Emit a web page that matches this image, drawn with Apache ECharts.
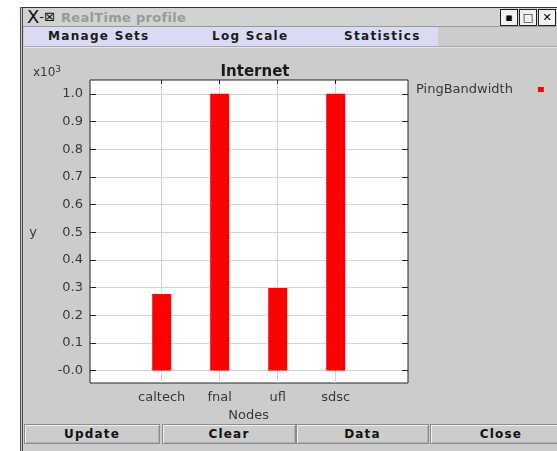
<!DOCTYPE html>
<html>
<head>
<meta charset="utf-8">
<script src="https://cdn.jsdelivr.net/npm/echarts@6/dist/echarts.min.js"></script>
<style>
  html, body { margin: 0; padding: 0; background: #ffffff; width: 557px; height: 451px; overflow: hidden; font-family: "DejaVu Sans", sans-serif; }
  #win { position: absolute; left: 20px; top: 7px; width: 560px; height: 460px; background: #cccccc; border-left: 3px double #4a4a4a; border-top: 1px solid #333; }
  #titlebar { position: absolute; left: 0; top: 0; width: 560px; height: 18px; background: #d2d2d2; border-bottom: 1px solid #9a9a9a; }
  #icon { position: absolute; left: 4px; top: -1px; font-size: 18px; color: #111; line-height: 19px; }
  #icon span { font-size: 13px; vertical-align: 2px; }
  #wtitle { position: absolute; left: 38px; top: 2px; font-size: 13px; font-weight: bold; color: #9a9a9a; line-height: 15px; letter-spacing: 0.3px; }
  .wbtn { position: absolute; top: 1px; width: 16px; height: 15px; background: #f2f2f2; border: 1px solid #222; font-size: 11px; font-weight: bold; line-height: 15px; text-align: center; color: #000; }
  #menubar { position: absolute; left: 1px; top: 19px; width: 414px; height: 19px; background: #dadaf4; }
  #menuline { position: absolute; left: 0; top: 38px; width: 560px; height: 1px; background: #a8a8a8; border-bottom: 1px solid #e4e4e4; }
  .menu { position: absolute; top: 2px; font-size: 12px; font-weight: bold; color: #1a1a1a; letter-spacing: 1.3px; line-height: 15px; white-space: nowrap; }
  .btn { position: absolute; top: 416px; height: 18px; background: #cccccc; border: 1px solid #8c8c8c; box-shadow: inset 1px 1px 0 #f0f0f0, inset -1px -1px 0 #b0b0b0; font-size: 12px; font-weight: bold; color: #111; text-align: center; line-height: 18px; letter-spacing: 1.2px; }
  #chart { position: absolute; left: 0; top: 0; width: 557px; height: 451px; }
</style>
</head>
<body>
<div id="win">
  <div id="titlebar">
    <div id="icon">X<span>-&#8864;</span></div>
    <div id="wtitle">RealTime profile</div>
    <div class="wbtn" style="left:477px">&#9642;</div>
    <div class="wbtn" style="left:496px">&#9633;</div>
    <div class="wbtn" style="left:515px">&#10005;</div>
  </div>
  <div id="menubar">
    <div class="menu" style="left:24px">Manage Sets</div>
    <div class="menu" style="left:188px">Log Scale</div>
    <div class="menu" style="left:320px">Statistics</div>
  </div>
  <div id="menuline"></div>
  <div class="btn" style="left:1px; width:134px">Update</div>
  <div class="btn" style="left:139px; width:132px">Clear</div>
  <div class="btn" style="left:273px; width:131px">Data</div>
  <div class="btn" style="left:407px; width:140px">Close</div>
</div>
<div id="chart"></div>
<script>
// Data (values in units of x10^3)
const categories = ['caltech', 'fnal', 'ufl', 'sdsc'];
const pingBandwidth = [0.277, 1.0, 0.298, 1.0];
const seriesName = 'PingBandwidth';
const chartTitle = 'Internet';
const xAxisTitle = 'Nodes';
const yAxisTitle = 'y';
const yMin = 0, yMax = 1, yStep = 0.1;

const FONT = 'DejaVu Sans';
const TXT = '#383838';
const GRIDC = '#d2d2d2';

const chart = echarts.init(document.getElementById('chart'), null, { renderer: 'canvas' });
chart.setOption({
  backgroundColor: 'transparent',
  animation: false,
  title: [
    { text: chartTitle, left: 250, top: 60, textAlign: 'center',
      textStyle: { fontFamily: FONT, fontSize: 15, fontWeight: 'bold', color: '#1a1a1a' } },
    { text: 'x10{s|3}', left: 28, top: 60,
      textStyle: { fontFamily: FONT, fontSize: 12, fontWeight: 'normal', color: TXT, lineHeight: 16,
        rich: { s: { fontFamily: FONT, fontSize: 9, color: TXT, verticalAlign: 'top', lineHeight: 10 } } } }
  ],
  legend: {
    data: [seriesName], left: 416, top: 83, orient: 'vertical', align: 'right',
    icon: 'rect', itemWidth: 6, itemHeight: 5, padding: 0,
    textStyle: { fontFamily: FONT, fontSize: 13, color: TXT, padding: [0, 20, 0, 0] }
  },
  grid: [
    { left: 90, top: 80, width: 318, height: 303, show: true, backgroundColor: '#ffffff', borderColor: '#222222', borderWidth: 1 },
    { left: 90, top: 94, width: 318, height: 276.7 },
    { left: 161.7, top: 80, width: 174, height: 303 }
  ],
  xAxis: [
    { gridIndex: 0, type: 'value', show: false },
    { gridIndex: 1, type: 'value', show: false },
    { gridIndex: 2, type: 'category', data: categories, boundaryGap: false, position: 'bottom',
      axisLine: { show: false },
      axisTick: { show: true, inside: true, length: 4, interval: 0, lineStyle: { color: '#222' } },
      axisLabel: { margin: 8, interval: 0, hideOverlap: false, color: TXT, fontFamily: FONT, fontSize: 13 },
      splitLine: { show: true, interval: 0, lineStyle: { color: GRIDC, width: 1 } },
      name: xAxisTitle, nameLocation: 'middle', nameGap: 26,
      nameTextStyle: { fontFamily: FONT, fontSize: 13, color: TXT } },
    { gridIndex: 2, type: 'category', data: categories, boundaryGap: false, position: 'top',
      axisLine: { show: false },
      axisTick: { show: true, inside: true, length: 4, interval: 0, lineStyle: { color: '#222' } },
      axisLabel: { show: false }, splitLine: { show: false } }
  ],
  yAxis: [
    { gridIndex: 0, type: 'value', show: false },
    { gridIndex: 1, type: 'value', min: yMin, max: yMax, interval: yStep, position: 'left',
      axisLine: { show: false },
      axisTick: { show: true, inside: true, length: 6, lineStyle: { color: '#222' } },
      axisLabel: { margin: 7, color: TXT, fontFamily: FONT, fontSize: 13,
        formatter: v => (Math.abs(v) < 1e-9 ? '-0.0' : v.toFixed(1)) },
      splitLine: { show: true, lineStyle: { color: GRIDC, width: 1 } },
      name: yAxisTitle, nameLocation: 'middle', nameRotate: 0, nameGap: 57,
      nameTextStyle: { fontFamily: FONT, fontSize: 13, color: TXT, align: 'center', verticalAlign: 'middle' } },
    { gridIndex: 1, type: 'value', min: yMin, max: yMax, interval: yStep, position: 'right',
      axisLine: { show: false },
      axisTick: { show: true, inside: true, length: 6, lineStyle: { color: '#222' } },
      axisLabel: { show: false }, splitLine: { show: false } },
    { gridIndex: 2, type: 'value', min: -0.045, max: 1.05, show: false }
  ],
  series: [
    { name: seriesName, type: 'bar', xAxisIndex: 2, yAxisIndex: 3, data: pingBandwidth,
      barWidth: 19, clip: false, itemStyle: { color: '#ff0000' } }
  ]
});
</script>
</body>
</html>
